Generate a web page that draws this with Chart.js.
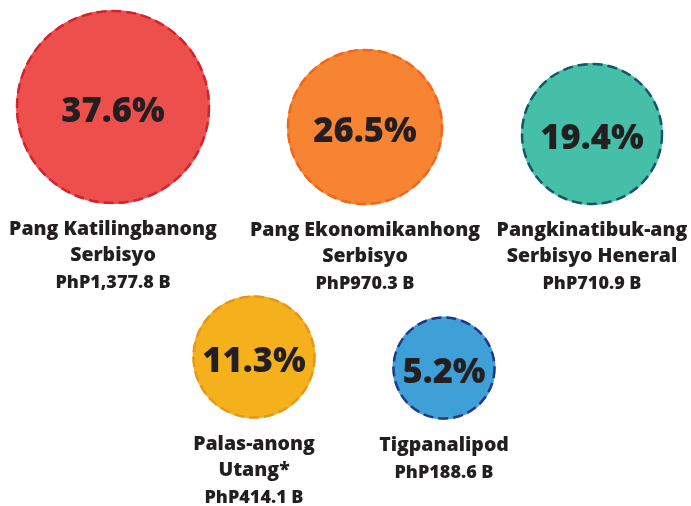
<!DOCTYPE html>
<html>
<head>
<meta charset="utf-8">
<script src="https://cdn.jsdelivr.net/npm/chart.js@4"></script>
<style>
  html, body { margin: 0; padding: 0; background: #fff; }
  #wrap { width: 691px; height: 506px; position: relative; }
</style>
</head>
<body>
<div id="wrap"><canvas id="budgetBubbles"></canvas></div>
<script>
// values
const categories = [
  ["Pang Katilingbanong", "Serbisyo"],
  ["Pang Ekonomikanhong", "Serbisyo"],
  ["Pangkinatibuk-ang", "Serbisyo Heneral"],
  ["Palas-anong", "Utang*"],
  ["Tigpanalipod"],
];
const shares = [37.6, 26.5, 19.4, 11.3, 5.2];
const amounts = [1377.8, 970.3, 710.9, 414.1, 188.6];

// where each bubble sits on the page (chart units = pixels)
const bubbleX = [113, 365, 592, 254, 444];
const bubbleY = [107, 127, 134, 357, 368];
const bubbleR = [97, 78, 71, 61.5, 51.5];

const fills = ["#ec4f4c", "#f68432", "#46bfa8", "#f5b11c", "#3f9fd7"];
const borders = ["#d3232f", "#f2661a", "#17566a", "#e8951c", "#23388c"];
const ink = "#231f20";
const fontFamily = "'Open Sans', 'DejaVu Sans', sans-serif";

const fmtAmount = (v) =>
  "PhP" + v.toLocaleString("en-US", { minimumFractionDigits: 1, maximumFractionDigits: 1 }) + " B";

// dashed outlines, percent inside, category + amount below
const bubbleLabels = {
  id: "bubbleLabels",
  afterDatasetsDraw(chart) {
    const ctx = chart.ctx;
    const meta = chart.getDatasetMeta(0);
    meta.data.forEach((pt, i) => {
      const r = pt.options.radius;
      ctx.save();
      ctx.setLineDash([10, 5]);
      ctx.lineWidth = 2.5;
      ctx.strokeStyle = borders[i];
      ctx.beginPath();
      ctx.arc(pt.x, pt.y, r - 1, 0, Math.PI * 2);
      ctx.stroke();
      ctx.setLineDash([]);

      ctx.fillStyle = ink;
      ctx.textAlign = "center";
      ctx.textBaseline = "alphabetic";
      ctx.font = "800 34.5px " + fontFamily;
      ctx.fillText(shares[i].toFixed(1) + "%", pt.x, pt.y + 15);

      let y = pt.y + r + 31;
      ctx.font = "800 19.5px " + fontFamily;
      categories[i].forEach((line) => {
        ctx.fillText(line, pt.x, y);
        y += 26;
      });
      ctx.font = "800 18px " + fontFamily;
      ctx.fillText(fmtAmount(amounts[i]), pt.x, y + 1);
      ctx.restore();
    });
  },
};

new Chart(document.getElementById("budgetBubbles"), {
  type: "bubble",
  data: {
    datasets: [
      {
        data: shares.map((s, i) => ({ x: bubbleX[i], y: bubbleY[i], r: bubbleR[i] })),
        backgroundColor: fills,
        borderWidth: 0,
        hoverRadius: 0,
        clip: false,
      },
    ],
  },
  options: {
    responsive: true,
    maintainAspectRatio: false,
    animation: false,
    events: [],
    layout: { padding: 0, autoPadding: false },
    scales: {
      x: { type: "linear", min: 0, max: 691, display: false },
      y: { type: "linear", min: 0, max: 506, reverse: true, display: false },
    },
    plugins: {
      legend: { display: false },
      tooltip: { enabled: false },
    },
  },
  plugins: [bubbleLabels],
});
</script>
</body>
</html>
